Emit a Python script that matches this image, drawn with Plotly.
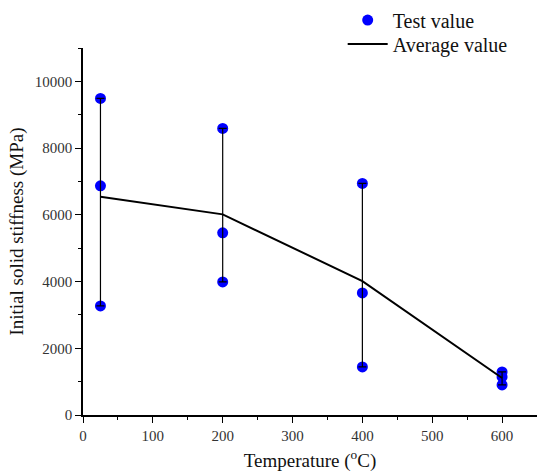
import plotly.graph_objects as go

# Test temperatures (°C) and measured initial solid stiffness (MPa)
temps = [25, 200, 400, 600]
test_25 = [9490, 6870, 3270]
test_200 = [8590, 5460, 3990]
test_400 = [6940, 3660, 1440]
test_600 = [1290, 1140, 900]
groups = [test_25, test_200, test_400, test_600]

x_ticks = [0, 100, 200, 300, 400, 500, 600]
y_ticks = [0, 2000, 4000, 6000, 8000, 10000]

x_pts = [t for t, g in zip(temps, groups) for _ in g]
y_pts = [v for g in groups for v in g]
avg = [sum(g) / len(g) for g in groups]
err_plus = [max(g) - a for g, a in zip(groups, avg)]
err_minus = [a - min(g) for g, a in zip(groups, avg)]

serif = "Liberation Serif"

fig = go.Figure()
fig.add_trace(go.Scatter(
    x=x_pts, y=y_pts, mode="markers", name="Test value",
    marker=dict(color="#0000ff", size=11), legend="legend",
))
fig.add_trace(go.Scatter(
    x=temps, y=avg, mode="lines", name="Average value",
    line=dict(color="black", width=2), legend="legend2",
    error_y=dict(type="data", symmetric=False, array=err_plus, arrayminus=err_minus,
                 color="black", thickness=1.2, width=4),
))

legend_style = dict(xanchor="left", yanchor="middle", bgcolor="rgba(0,0,0,0)",
                    font=dict(family=serif, size=20, color="#111"), itemwidth=40)

fig.update_layout(
    width=537, height=475,
    margin=dict(l=83, r=0, t=48, b=60),
    paper_bgcolor="white", plot_bgcolor="white",
    font=dict(family=serif, size=15, color="#222"),
    showlegend=True,
    legend=dict(x=0.572, y=1.076, **legend_style),
    legend2=dict(x=0.572, y=1.011, **legend_style),
    xaxis=dict(
        range=[0, 650], showgrid=False, zeroline=False,
        showline=True, linecolor="black", linewidth=1.5,
        ticks="outside", ticklen=6, tickwidth=1.2, tickcolor="black",
        tickvals=x_ticks, ticktext=[str(v) for v in x_ticks],
        minor=dict(ticks="outside", ticklen=3, tickwidth=1.2, tickcolor="black", dtick=50),
        title=dict(text="Temperature (<sup>o</sup>C)",
                   font=dict(family=serif, size=19, color="#111"), standoff=11),
        tickfont=dict(family=serif, size=15, color="#333"),
    ),
    yaxis=dict(
        range=[0, 11000], showgrid=False, zeroline=False,
        showline=True, linecolor="black", linewidth=1.5,
        ticks="outside", ticklen=6, tickwidth=1.2, tickcolor="black",
        tickvals=y_ticks, ticktext=[str(v) for v in y_ticks],
        minor=dict(ticks="outside", ticklen=3, tickwidth=1.2, tickcolor="black", dtick=1000),
        title=dict(text="Initial solid stiffness (MPa)",
                   font=dict(family=serif, size=19, color="#111"), standoff=6),
        tickfont=dict(family=serif, size=15, color="#333"),
    ),
)

fig.write_html("out.html")
